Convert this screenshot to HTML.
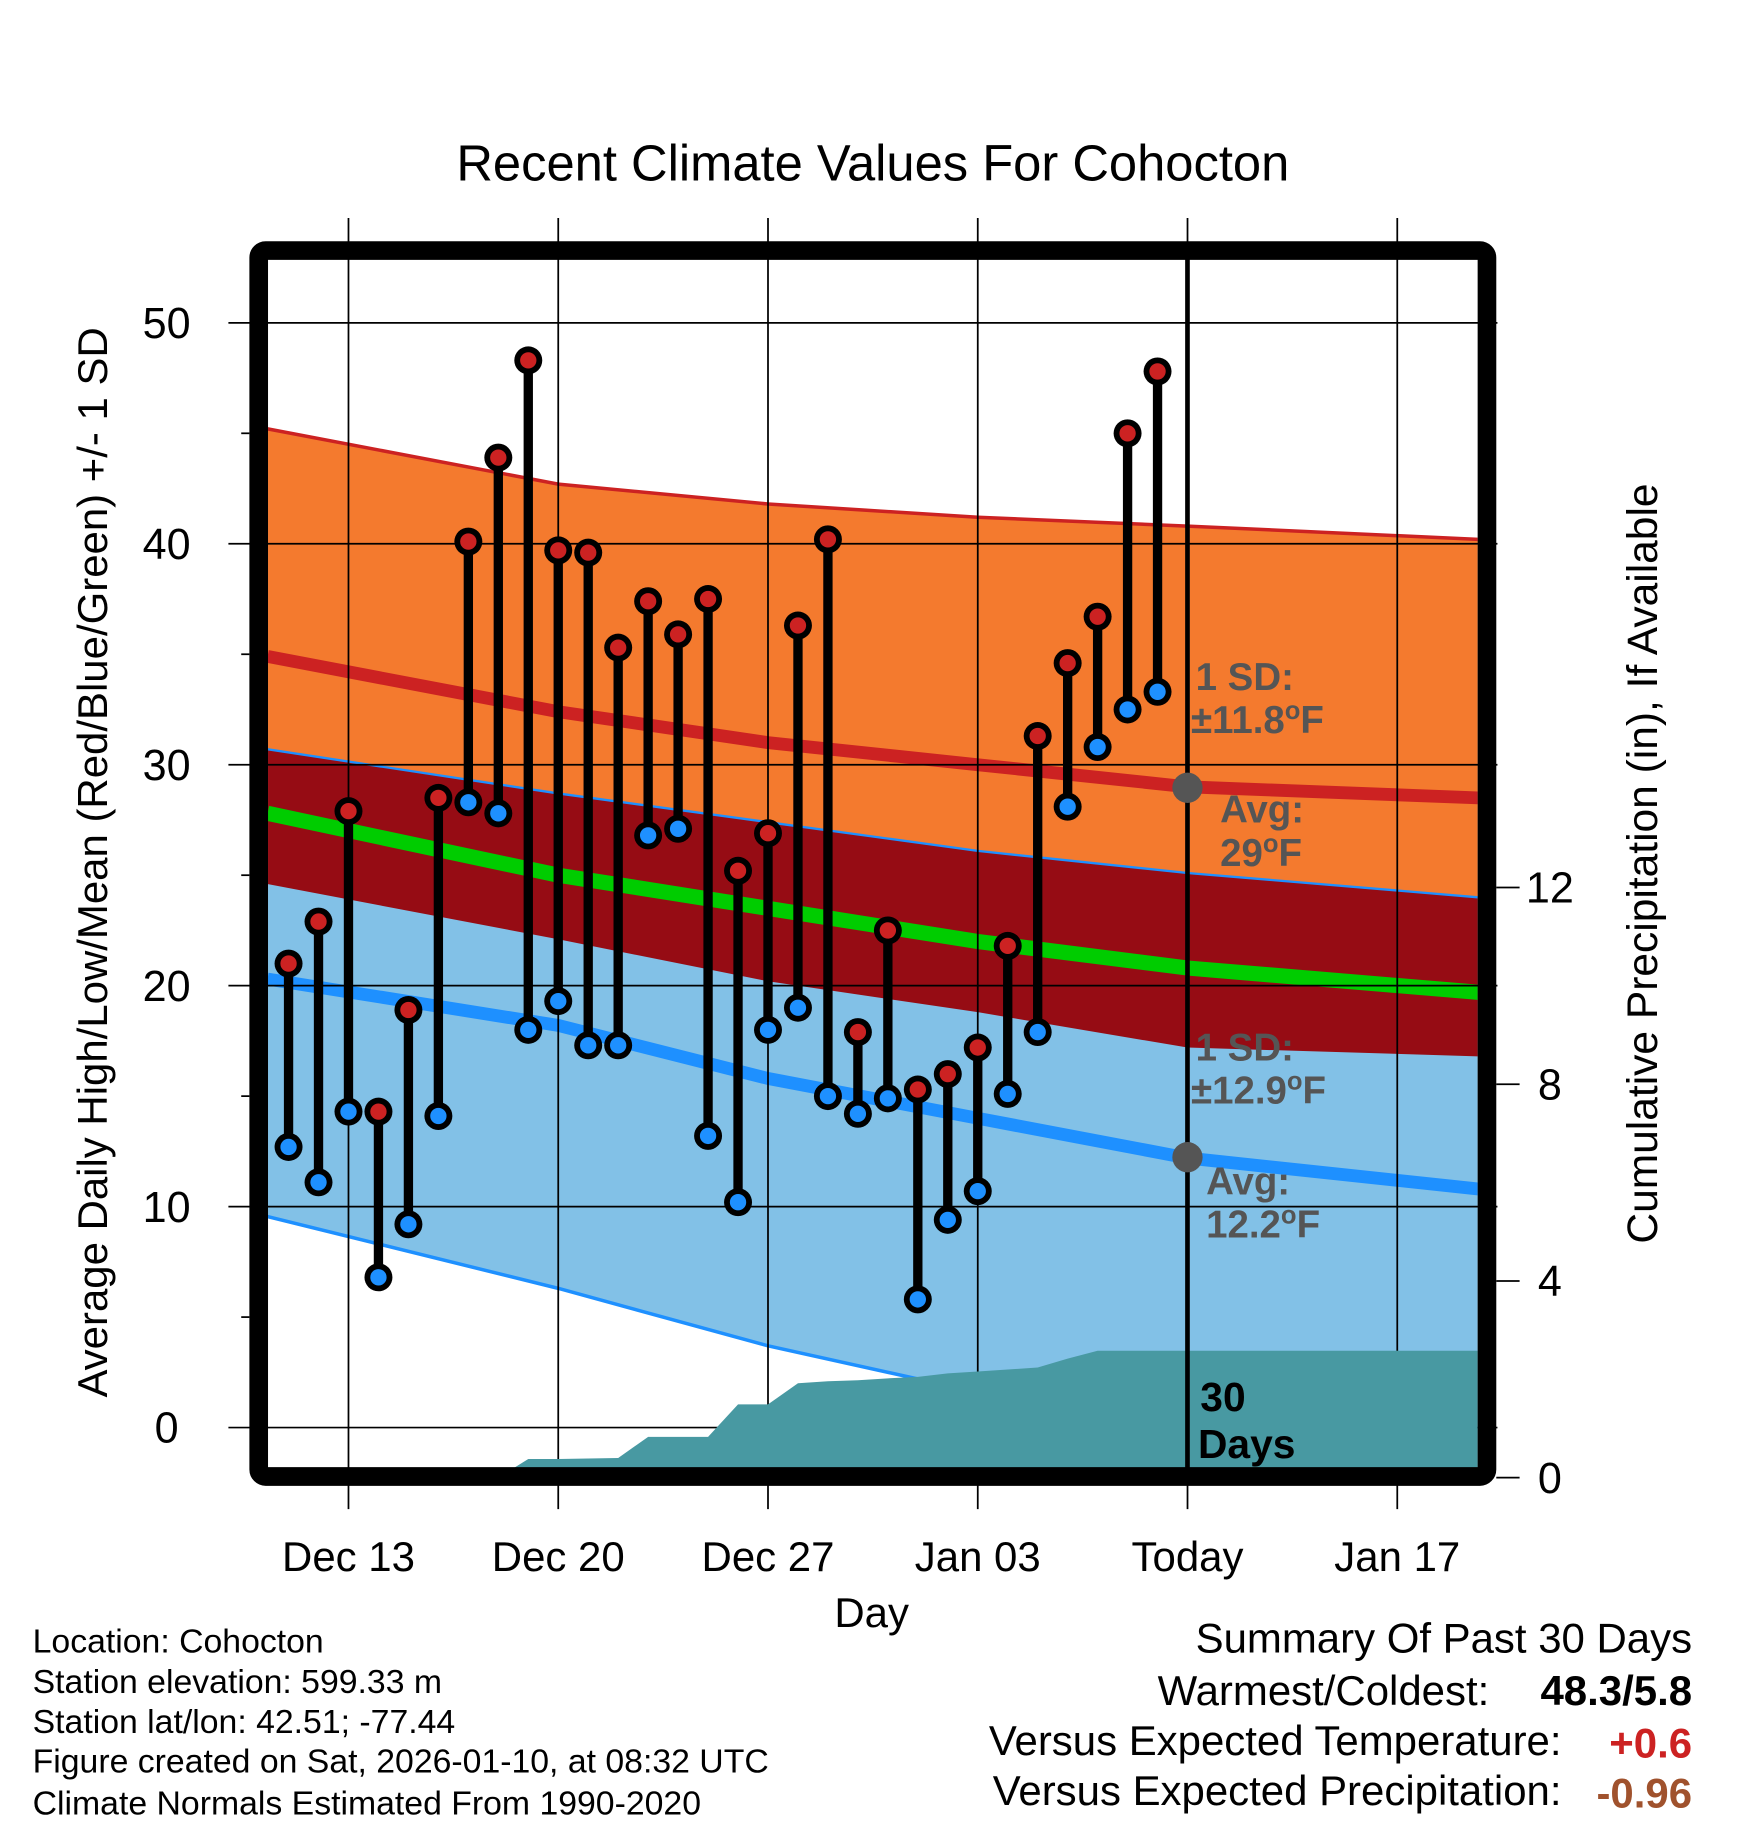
<!DOCTYPE html>
<html><head><meta charset="utf-8"><style>
html,body{margin:0;padding:0;background:#fff;}
svg{display:block;font-family:"Liberation Sans",sans-serif;}
</style></head><body>
<svg id="chart" width="1748" height="1828" viewBox="0 0 1500 1568.6" xmlns="http://www.w3.org/2000/svg">
<text x="749" y="155" font-size="43.5" text-anchor="middle">Recent Climate Values For Cohocton</text>
<defs><clipPath id="pc"><rect x="230" y="222" width="1038" height="1038"/></clipPath></defs>
<g id="bands" clip-path="url(#pc)"></g>
<g id="grid"></g>
<g id="precip" clip-path="url(#pc)"></g>
<g id="marks"></g>
<line x1="1019" y1="222" x2="1019" y2="1260" stroke="#000" stroke-width="4"/>
<rect x="222" y="215" width="1054" height="1052" fill="none" stroke="#000" stroke-width="16" rx="6"/>
<g id="axes"></g>
<g font-weight="bold" font-size="33" fill="#555">
<circle cx="1019" cy="676" r="13" fill="#555"/>
<circle cx="1019" cy="993" r="13" fill="#555"/>
<text x="1026" y="592">1 SD:</text>
<text x="1022" y="629">±11.8<tspan font-size="22" dy="-12">o</tspan><tspan dy="12">F</tspan></text>
<text x="1047" y="706">Avg:</text>
<text x="1047" y="743">29<tspan font-size="22" dy="-12">o</tspan><tspan dy="12">F</tspan></text>
<text x="1026" y="910">1 SD:</text>
<text x="1022" y="947">±12.9<tspan font-size="22" dy="-12">o</tspan><tspan dy="12">F</tspan></text>
<text x="1035" y="1025">Avg:</text>
<text x="1035" y="1062">12.2<tspan font-size="22" dy="-12">o</tspan><tspan dy="12">F</tspan></text>
<text x="1030" y="1211" font-size="35" fill="#000">30</text>
<text x="1028" y="1251" font-size="35" fill="#000">Days</text>
</g>
<text x="748" y="1396" font-size="36" text-anchor="middle">Day</text>
<text transform="translate(92,740) rotate(-90)" font-size="36" text-anchor="middle">Average Daily High/Low/Mean (Red/Blue/Green) +/- 1 SD</text>
<text transform="translate(1422,741) rotate(-90)" font-size="36.5" text-anchor="middle">Cumulative Precipitation (in), If Available</text>
<g font-size="29">
<text x="28" y="1418">Location: Cohocton</text>
<text x="28" y="1453">Station elevation: 599.33 m</text>
<text x="28" y="1487">Station lat/lon: 42.51; -77.44</text>
<text x="28" y="1521">Figure created on Sat, 2026-01-10, at 08:32 UTC</text>
<text x="28" y="1557">Climate Normals Estimated From 1990-2020</text>
</g>
<g font-size="36">
<text x="1452" y="1418" text-anchor="end">Summary Of Past 30 Days</text>
<text x="1278" y="1463" text-anchor="end">Warmest/Coldest:</text>
<text x="1452" y="1463" text-anchor="end" font-weight="bold">48.3/5.8</text>
<text x="1340" y="1506" text-anchor="end">Versus Expected Temperature:</text>
<text x="1452" y="1508" text-anchor="end" font-weight="bold" fill="#cc2222">+0.6</text>
<text x="1340" y="1549" text-anchor="end">Versus Expected Precipitation:</text>
<text x="1452" y="1551" text-anchor="end" font-weight="bold" fill="#a0522d">-0.96</text>
</g>
</svg>
<script>
// day index 0 = Dec 10
const normDays=[0.3,10,17,24,31,40.7];
const highAvg=[34.9,32.4,31.0,30.0,29.0,28.5];
const highSD=[10.3,10.3,10.8,11.2,11.8,11.7];
const lowAvg=[20.3,18.2,15.8,14.0,12.2,10.8];
const lowSDUp=[10.4,10.5,11.6,12.1,12.9,13.2];
const lowSDDown=[10.75,11.9,12.1,12.4,12.9,13.2];
const meanAvg=[27.8,25.0,23.5,22.0,20.8,19.7];
const obsDays=[1,2,3,4,5,6,7,8,9,10,11,12,13,14,15,16,17,18,19,20,21,22,23,24,25,26,27,28,29,30];
const highs=[21.0,22.9,27.9,14.3,18.9,28.5,40.1,43.9,48.3,39.7,39.6,35.3,37.4,35.9,37.5,25.2,26.9,36.3,40.2,17.9,22.5,15.3,16.0,17.2,21.8,31.3,34.6,36.7,45.0,47.8];
const lows=[12.7,11.1,14.3,6.8,9.2,14.1,28.3,27.8,18.0,19.3,17.3,17.3,26.8,27.1,13.2,10.2,18.0,19.0,15.0,14.2,14.9,5.8,9.4,10.7,15.1,17.9,28.1,30.8,32.5,33.3];
const precip=[0,0,0,0,0,0,0,0,0.38,0.38,0.39,0.40,0.83,0.83,0.83,1.49,1.49,1.92,1.96,1.98,2.02,2.05,2.12,2.16,2.20,2.24,2.42,2.58,2.58,2.58];
const xTickDays=[3,10,17,24,31,38];
const xTickLabels=["Dec 13","Dec 20","Dec 27","Jan 03","Today","Jan 17"];
const yTicks=[0,10,20,30,40,50];
const y2Ticks=[0,4,8,12];

const NS="http://www.w3.org/2000/svg";
const X=d=>221.9+d*25.714;
const Y=t=>1225-t*18.96;
const Y2=p=>1268-p*42.2;
function el(tag,attrs,parent){const e=document.createElementNS(NS,tag);for(const k in attrs)e.setAttribute(k,attrs[k]);parent.appendChild(e);return e;}
const bands=document.getElementById('bands'),grid=document.getElementById('grid'),pr=document.getElementById('precip'),marks=document.getElementById('marks'),axes=document.getElementById('axes');
const pts=(arr)=>normDays.map((d,i)=>X(d)+','+Y(arr[i]));
const hTop=highAvg.map((v,i)=>v+highSD[i]),hBot=highAvg.map((v,i)=>v-highSD[i]);
const lTop=lowAvg.map((v,i)=>v+lowSDUp[i]),lBot=lowAvg.map((v,i)=>v-lowSDDown[i]);
function band(top,bot,fill,name){const p=el('polygon',{points:pts(top).concat(pts(bot).reverse()).join(' '),fill:fill},bands);

}
band(hTop,hBot,'#f47a2e','high-sd-band');
band(lTop,lBot,'#82c1e7','low-sd-band');
band(hTop.map((v,i)=>Math.min(v,lTop[i])),hBot.map((v,i)=>Math.max(v,lBot[i])),'#960c14','overlap-band');
function line(arr,color,w,name){const l=el('polyline',{points:pts(arr).join(' '),fill:'none',stroke:color,'stroke-width':w},bands);

}
line(hTop,'#cc2222',3,'high-plus-sd-line');
line(lTop,'#1e90ff',2,'low-plus-sd-line');
line(lBot,'#1e90ff',3,'low-minus-sd-line');
line(highAvg,'#cc2222',11,'high-avg-line');
line(lowAvg,'#1e90ff',11,'low-avg-line');
line(meanAvg,'#00cc00',13,'mean-avg-line');
yTicks.forEach(t=>{const g=el('line',{x1:196,x2:1285,y1:Y(t),y2:Y(t),stroke:'#000','stroke-width':1.5},grid);


const lb=el('text',{x:143,y:Y(t)+13,'font-size':37,'text-anchor':'middle'},axes);lb.textContent=t;

});
[5,15,25,35,45].forEach(t=>{el('line',{x1:207,x2:214,y1:Y(t),y2:Y(t),stroke:'#000','stroke-width':1.5},grid);});
xTickDays.forEach((d,i)=>{const g=el('line',{x1:X(d),x2:X(d),y1:187,y2:1295,stroke:'#000','stroke-width':1.5},grid);


const lb=el('text',{x:X(d),y:1348,'font-size':36,'text-anchor':'middle'},axes);lb.textContent=xTickLabels[i];

});
y2Ticks.forEach(p=>{el('line',{x1:1284,x2:1304,y1:Y2(p),y2:Y2(p),stroke:'#000','stroke-width':1.5},axes);
const lb=el('text',{x:1330,y:Y2(p)+13,'font-size':37,'text-anchor':'middle'},axes);lb.textContent=p;

});
let pp=[X(0)+','+Y2(0)];
obsDays.forEach((d,i)=>pp.push(X(d)+','+Y2(precip[i])));
pp.push(X(41)+','+Y2(precip[precip.length-1]));pp.push(X(41)+','+Y2(0));
const pa=el('polygon',{points:pp.join(' '),fill:'#4899a2'},pr);


obsDays.forEach((d,i)=>{const x=X(d);
const s=el('line',{x1:x,x2:x,y1:Y(highs[i]),y2:Y(lows[i]),stroke:'#000','stroke-width':8},marks);


[[highs[i],'#cc2222','high-point'],[lows[i],'#1e90ff','low-point']].forEach(([v,c,n])=>{
el('circle',{cx:x,cy:Y(v),r:12,fill:'#000'},marks);
const c2=el('circle',{cx:x,cy:Y(v),r:7,fill:c},marks);

});});
</script>
</body></html>
